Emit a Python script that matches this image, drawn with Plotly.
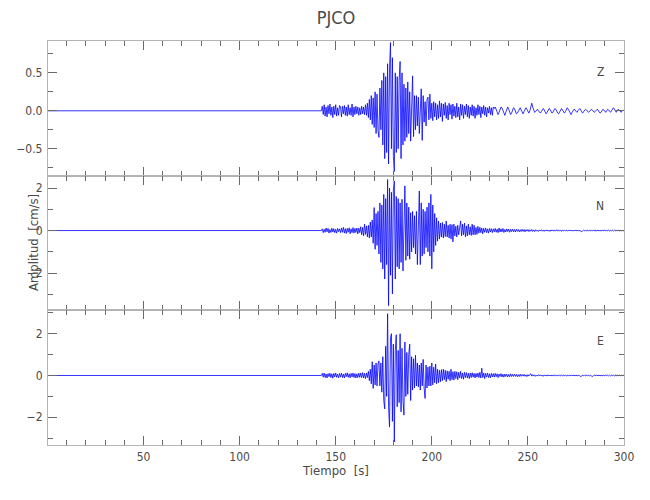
import numpy as np
import plotly.graph_objects as go
from plotly.subplots import make_subplots

# ---------------- data ----------------
station = "PJCO"
components = ["Z", "N", "E"]

# pre-event quiet segment (flat at zero)
pre_t = [0.0]
pre_v = [0.0]

# sampled record after onset: start time and sample interval [s]
t_start = 142.5
t_step = 0.5

z_vals = [
    0.0, 0.06, -0.05, 0.08, -0.07, 0.05, -0.08, 0.07, -0.04, 0.09, -0.06, 0.05, -0.09, 0.06, -0.05, 0.08, -0.07, 0.04, -0.06, 0.07,
    0.05, -0.08, 0.06, -0.04, 0.07, -0.06, 0.05, -0.07, 0.08, -0.05, 0.04, -0.06, 0.09, -0.08, 0.05, -0.05, 0.06, -0.04, 0.05, -0.06,
    0.04, -0.05, 0.06, -0.04, 0.05, -0.05, 0.08, -0.06, 0.1, -0.09, 0.15, -0.12, 0.2, -0.18, 0.17, -0.22, 0.25, -0.3, 0.22, -0.26,
    -0.35, 0.3, -0.25, 0.4, -0.45, 0.5, -0.63, 0.45, -0.55, 0.62, -0.7, 0.55, 0.9, -0.5, 0.7, -0.6, -0.8, 0.5, -0.55, 0.45,
    -0.5, 0.4, 0.65, -0.63, 0.5, -0.45, 0.35, -0.4, 0.3, -0.35, 0.38, -0.3, 0.25, -0.4, 0.3, 0.46, -0.34, 0.2, -0.25, 0.2,
    -0.2, 0.18, -0.3, 0.15, 0.29, -0.39, 0.2, -0.15, 0.12, -0.2, 0.15, 0.18, -0.12, 0.22, -0.1, 0.1, -0.13, 0.12, -0.08, 0.1,
    -0.12, 0.08, -0.1, 0.13, -0.08, 0.1, -0.14, 0.09, -0.06, 0.11, -0.1, 0.07, -0.12, 0.1, -0.05, 0.08, -0.11, 0.09, -0.07, 0.06,
    -0.09, 0.1, -0.08, 0.05, -0.12, 0.09, -0.06, 0.08, -0.1, 0.06, -0.05, 0.09, -0.08, 0.07, -0.1, 0.05, -0.06, 0.08, -0.07, 0.06,
    -0.1, 0.04, -0.06, 0.08, -0.05, 0.06, -0.09, 0.05, -0.04, 0.07, -0.06, 0.05, -0.08, 0.04, -0.03, 0.06, -0.05, 0.04, -0.06, 0.05,
    0.03, 0.05, 0.02, -0.03, -0.05, -0.02, 0.02, 0.05, 0.04, 0.0, -0.04, -0.06, -0.02, 0.03, 0.05, 0.02, -0.02, -0.05, -0.03, 0.01,
    0.04, 0.03, -0.01, -0.04, -0.03, 0.0, 0.03, 0.04, 0.01, -0.03, -0.04, -0.01, 0.02, 0.04, 0.02, -0.02, -0.03, 0.0, 0.05, 0.1,
    0.05, 0.0, -0.02, -0.01, 0.01, 0.02, 0.0, -0.02, -0.03, -0.01, 0.02, 0.03, 0.01, -0.02, -0.04, -0.02, 0.01, 0.03, 0.02, -0.01,
    -0.03, -0.02, 0.01, 0.03, 0.02, -0.01, -0.03, -0.04, -0.01, 0.02, 0.03, 0.01, -0.02, -0.03, -0.01, 0.02, 0.04, 0.02, -0.01, -0.03,
    -0.05, -0.02, 0.01, 0.02, 0.01, -0.01, -0.02, 0.0, 0.02, 0.03, 0.01, -0.02, -0.03, -0.01, 0.01, 0.02, 0.01, -0.01, -0.02, -0.01,
    0.01, 0.02, 0.01, -0.01, -0.02, -0.01, 0.01, 0.02, 0.01, -0.01, -0.03, -0.02, 0.0, 0.02, 0.01, -0.01, -0.02, 0.0, 0.02, 0.01,
    -0.01, -0.02, 0.0, 0.02, 0.04, 0.02, -0.01, -0.02, 0.0, 0.02, 0.01, -0.01, -0.02, 0.0, 0.01, 0.0,
]

n_vals = [
    0.0, 0.08, -0.1, 0.06, -0.08, 0.12, -0.06, 0.1, -0.12, 0.05, -0.09, 0.11, -0.07, 0.09, -0.1, 0.06, -0.12, 0.1, -0.05, 0.08,
    -0.1, 0.12, -0.08, 0.15, -0.12, 0.09, -0.14, 0.1, -0.08, 0.13, -0.15, 0.08, -0.1, 0.14, -0.12, 0.1, -0.09, 0.12, -0.16, 0.11,
    -0.1, 0.18, -0.2, 0.15, -0.25, 0.3, -0.18, 0.22, -0.3, 0.25, -0.35, 0.4, -0.3, 0.5, -0.6, 1.08, -0.88, 0.8, -0.7, 0.9,
    -1.1, 1.3, -1.5, 1.2, -1.8, 1.7, -2.28, 1.5, -1.6, 2.4, -3.53, 2.0, -2.1, 1.8, -2.98, 1.9, 2.33, -2.28, 1.6, -1.7,
    1.5, -1.8, 1.3, -1.5, 1.47, -1.9, 1.2, 2.1, -1.4, 1.3, -1.2, 1.1, -1.35, 0.84, -1.0, 0.9, -0.8, 0.7, -1.1, 0.9,
    -1.6, 1.2, 1.86, -1.6, 1.3, -1.2, 1.0, -1.1, 0.9, -0.8, 1.1, -1.0, 1.3, -1.2, 1.7, -1.8, 1.2, -1.0, 0.8, -0.7,
    0.6, -0.5, 0.45, -0.4, 0.35, -0.3, 0.38, -0.35, 0.3, -0.28, 0.45, -0.3, 0.25, -0.35, 0.3, -0.4, 0.28, -0.53, 0.3, -0.25,
    0.2, -0.3, 0.25, -0.2, 0.3, 0.45, -0.25, 0.3, -0.2, 0.35, -0.3, 0.22, -0.25, 0.3, -0.2, 0.18, -0.23, 0.3, -0.2, 0.25,
    -0.2, 0.15, -0.18, 0.2, -0.12, 0.15, -0.1, 0.12, -0.15, 0.1, -0.08, 0.12, -0.1, 0.08, -0.12, 0.1, -0.07, 0.09, -0.1, 0.08,
    -0.06, 0.1, -0.08, 0.06, -0.1, 0.12, -0.07, 0.08, -0.06, 0.1, -0.09, 0.05, -0.07, 0.08, -0.05, 0.07, -0.08, 0.06, -0.05, 0.07,
    -0.06, 0.05, -0.07, 0.06, -0.04, 0.05, -0.06, 0.04, -0.05, 0.06, -0.04, 0.05, -0.06, 0.04, -0.03, 0.05, -0.05, 0.04, -0.03, 0.05,
    -0.04, 0.03, -0.05, 0.04, -0.03, 0.02, -0.04, 0.03, -0.02, 0.04, -0.03, 0.02, -0.04, 0.03, -0.02, 0.03, -0.03, 0.02, -0.04, 0.03,
    -0.02, 0.03, -0.03, 0.02, -0.02, 0.04, -0.03, 0.02, -0.02, 0.03, -0.04, 0.02, -0.02, 0.03, -0.02, 0.02, -0.03, 0.02, -0.02, 0.03,
    -0.02, 0.02, -0.03, 0.02, -0.02, 0.03, -0.02, 0.02, -0.03, 0.02, -0.04, -0.05, -0.02, 0.02, -0.02, 0.03, -0.02, 0.02, -0.03, 0.02,
    -0.02, 0.03, -0.02, 0.02, -0.02, 0.03, -0.03, 0.02, -0.02, 0.02, -0.03, 0.02, -0.02, 0.03, -0.02, 0.02, -0.02, 0.03, -0.02, 0.02,
    -0.02, 0.02, -0.03, 0.02, -0.02, 0.02, -0.02, 0.03, -0.02, 0.02, -0.02, 0.02, -0.03, 0.02, -0.02, 0.0,
]

e_vals = [
    0.0, 0.1, -0.08, 0.12, -0.1, 0.07, -0.12, 0.09, -0.06, 0.11, -0.1, 0.08, -0.13, 0.1, -0.07, 0.12, -0.09, 0.06, -0.11, 0.1,
    -0.08, 0.11, -0.1, 0.07, -0.12, 0.1, -0.06, 0.13, -0.09, 0.08, -0.11, 0.1, -0.07, 0.12, -0.1, 0.09, -0.12, 0.08, -0.1, 0.11,
    -0.09, 0.12, -0.1, 0.14, -0.12, 0.1, -0.15, 0.12, -0.1, 0.2, -0.25, 0.3, -0.4, 0.66, -0.62, 0.5, -0.45, 0.6, -0.5, 0.55,
    0.7, -0.5, 0.6, -0.8, 0.9, -1.2, -1.6, 1.4, -1.0, 2.96, -1.5, -2.47, 1.8, 2.0, -2.2, 1.5, -3.18, 1.2, 1.95, -1.5,
    1.2, -1.3, 2.0, -1.74, 1.3, -1.2, -1.9, 1.6, -1.0, 1.1, -0.9, 1.0, 1.5, -1.2, 0.9, -0.7, 0.8, -0.6, 0.97, -0.5,
    0.6, -0.55, 0.5, -0.7, 0.6, -0.5, 0.77, -0.6, -1.1, 0.5, -0.6, 0.4, -0.5, 0.45, -0.5, 0.6, -0.45, 0.4, -0.35, 0.55,
    -0.4, 0.3, -0.35, 0.25, -0.3, 0.28, -0.25, 0.3, -0.2, 0.25, -0.3, 0.22, -0.18, 0.2, -0.25, 0.3, -0.2, 0.18, -0.22, 0.2,
    -0.15, 0.18, -0.2, 0.15, -0.12, 0.2, -0.15, 0.12, -0.18, 0.15, -0.1, 0.14, -0.12, 0.1, -0.15, 0.12, -0.1, 0.13, -0.08, 0.1,
    -0.12, 0.1, -0.08, 0.12, -0.1, 0.15, -0.12, 0.35, -0.1, 0.12, -0.15, 0.1, -0.08, 0.12, -0.1, 0.08, -0.12, 0.1, -0.07, 0.09,
    -0.08, 0.1, -0.06, 0.08, -0.1, 0.07, -0.05, 0.09, -0.07, 0.06, -0.08, 0.07, -0.05, 0.06, -0.07, 0.05, -0.06, 0.08, -0.05, 0.06,
    -0.05, 0.06, -0.04, 0.05, -0.06, 0.04, -0.05, 0.06, -0.04, 0.05, -0.03, 0.05, -0.04, 0.03, -0.05, 0.04, -0.03, 0.05, 0.08, -0.03,
    0.04, -0.03, 0.03, -0.04, 0.02, -0.03, 0.04, -0.02, 0.03, -0.03, 0.02, -0.04, 0.03, -0.02, 0.02, -0.03, 0.03, -0.02, 0.02, -0.03,
    0.02, -0.02, 0.03, -0.02, 0.02, -0.03, 0.02, -0.02, 0.03, -0.02, 0.02, -0.02, 0.03, -0.03, 0.02, -0.02, 0.02, -0.03, 0.02, -0.02,
    0.03, -0.02, 0.02, -0.02, 0.02, -0.03, 0.02, -0.02, 0.02, -0.03, -0.05, -0.03, 0.02, -0.02, 0.03, -0.02, 0.02, -0.03, 0.02, -0.02,
    0.02, -0.03, -0.05, -0.02, 0.02, -0.02, 0.03, -0.02, 0.02, -0.02, 0.02, -0.03, 0.02, -0.02, 0.02, -0.02, 0.03, -0.02, 0.02, -0.02,
    0.02, -0.02, 0.02, -0.03, 0.02, -0.02, 0.02, -0.02, 0.03, -0.02, 0.02, -0.02, 0.02, -0.02, 0.02, 0.0,
]

traces = [z_vals, n_vals, e_vals]
y_ranges = [[-0.855, 0.92], [-3.75, 2.58], [-3.33, 3.12]]
y_major = [0.5, 2, 2]
y_minor = [0.25, 1, 1]
y_formats = [".1f", "d", "d"]
x_range = [0.3, 300]

# ---------------- figure ----------------
FONT = "DejaVu Sans Condensed, Liberation Sans Narrow, Roboto, sans-serif"
TXT = "#4a4a4a"
LINE = "#b4b4b4"
TICK = "#6a6a6a"

fig = make_subplots(rows=3, cols=1, shared_xaxes=True, vertical_spacing=0)

for i, vals in enumerate(traces):
    t = list(pre_t) + list(t_start + t_step * np.arange(len(vals)))
    v = list(pre_v) + list(vals)
    fig.add_trace(
        go.Scatter(x=t, y=v, mode="lines", line=dict(color="#0000ff", width=0.8),
                   showlegend=False, hoverinfo="skip"),
        row=i + 1, col=1,
    )
    fig.update_yaxes(
        range=y_ranges[i], dtick=y_major[i], tick0=0, tickformat=y_formats[i],
        ticks="inside", ticklen=9, tickwidth=1, tickcolor=TICK,
        minor=dict(dtick=y_minor[i], tick0=0, ticks="inside", ticklen=5, tickcolor=TICK, showgrid=False),
        showline=True, linecolor=LINE, linewidth=1.2, mirror="allticks",
        showgrid=False, zeroline=False, automargin=False, ticklabelstandoff=2,
        tickfont=dict(family=FONT, size=12, color=TXT),
        row=i + 1, col=1,
    )
    fig.update_xaxes(
        range=x_range, dtick=50, tick0=0,
        ticks="inside", ticklen=9, tickwidth=1, tickcolor=TICK,
        minor=dict(dtick=10, tick0=0, ticks="inside", ticklen=5, tickcolor=TICK, showgrid=False),
        showline=True, linecolor=LINE, linewidth=1.2, mirror="allticks",
        showgrid=False, zeroline=False, automargin=False,
        tickfont=dict(family=FONT, size=12, color=TXT),
        row=i + 1, col=1,
    )
    fig.add_annotation(
        text=components[i], xref=f"x{'' if i == 0 else i + 1} domain",
        yref=f"y{'' if i == 0 else i + 1} domain", x=0.969, y=0.84,
        showarrow=False, font=dict(family=FONT, size=12, color=TXT),
    )

fig.update_xaxes(title=dict(text="Tiempo  [s]", font=dict(family=FONT, size=13, color=TXT), standoff=0),
                 row=3, col=1)

fig.add_annotation(
    text="Amplitud  [cm/s]", textangle=-90, xref="paper", yref="y2 domain",
    x=-0.026, y=0.5, xanchor="center", yanchor="middle", showarrow=False,
    font=dict(family=FONT, size=13, color=TXT),
)

# the page body adds an 8px offset, so the margins are reduced accordingly
fig.update_layout(
    width=650, height=500,
    margin=dict(l=40, r=34, t=33, b=63),
    paper_bgcolor="white", plot_bgcolor="white",
    title=dict(text=station, x=0.5046, xanchor="center", y=0.98, yanchor="middle",
               font=dict(family=FONT, size=18, color=TXT)),
)

fig.write_html("out.html")
